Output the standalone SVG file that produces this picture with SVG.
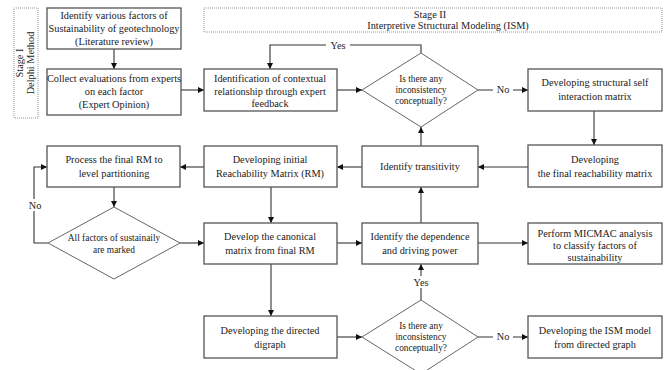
<svg xmlns="http://www.w3.org/2000/svg" width="667" height="370" viewBox="0 0 667 370">
<defs>
<marker id="ah" markerUnits="userSpaceOnUse" markerWidth="6" markerHeight="6" refX="6" refY="3" orient="auto">
<path d="M0,0 L6,3 L0,6 z" fill="#111"/>
</marker>
<style>
.box{fill:#fff;stroke:#555;stroke-width:1.3}
.dia{fill:#fff;stroke:#666;stroke-width:1}
.dot{fill:none;stroke:#999;stroke-width:1;stroke-dasharray:1 1}
.t{font-family:"Liberation Serif","Times New Roman",serif;font-size:10.3px;fill:#222;text-anchor:middle}
.s{font-family:"Liberation Serif","Times New Roman",serif;font-size:9.4px;fill:#222;text-anchor:middle}
.c{fill:none;stroke:#333;stroke-width:1.1;marker-end:url(#ah)}
.ln{fill:none;stroke:#333;stroke-width:1.1}
.lb{font-family:"Liberation Serif","Times New Roman",serif;font-size:10.3px;fill:#222;text-anchor:middle}
</style>
</defs>
<rect width="667" height="370" fill="#fff"/>

<g id="connectors">
<path class="c" d="M114,49 V69"/>
<path class="c" d="M181,90 H204"/>
<path class="c" d="M337,90 H362"/>
<path class="c" d="M421,53 V45 H270 V69"/>
<path class="c" d="M478,90 H528"/>
<path class="c" d="M594,111 V145"/>
<path class="c" d="M528,167 H478"/>
<path class="c" d="M421,146 V127"/>
<path class="c" d="M362,167 H337"/>
<path class="c" d="M204,167 H180"/>
<path class="c" d="M114,187 V207"/>
<path class="c" d="M48,243 H34 V167 H47"/>
<path class="c" d="M180,243 H204"/>
<path class="c" d="M271,187 V223"/>
<path class="c" d="M337,243 H362"/>
<path class="c" d="M421,223 V187"/>
<path class="c" d="M478,243 H528"/>
<path class="c" d="M271,264 V316"/>
<path class="c" d="M337,337 H362"/>
<path class="c" d="M421,300 V264"/>
<path class="c" d="M478,337 H528"/>
<rect x="326" y="40" width="24" height="11" fill="#fff"/>
<text class="lb" x="338" y="49">Yes</text>
<rect x="493" y="84" width="20" height="11" fill="#fff"/>
<text class="lb" x="503" y="93">No</text>
<rect x="25" y="199" width="20" height="12" fill="#fff"/>
<text class="lb" x="35" y="209">No</text>
<rect x="409" y="276" width="24" height="12" fill="#fff"/>
<text class="lb" x="421" y="286">Yes</text>
<rect x="493" y="331" width="20" height="11" fill="#fff"/>
<text class="lb" x="503" y="340">No</text>
</g>

<g id="stage1">
<rect class="dot" x="14" y="8" width="24" height="110"/>
<text class="t" transform="translate(23,63) rotate(-90)">Stage I</text>
<text class="t" transform="translate(34,63) rotate(-90)">Delphi Method</text>
</g>

<g id="stage2">
<rect class="dot" x="204" y="8" width="458" height="24"/>
<text class="t" x="430" y="18">Stage II</text>
<text class="t" x="448" y="29">Interpretive Structural Modeling (ISM)</text>
</g>

<g id="n1">
<rect class="box" x="47" y="8" width="134" height="41"/>
<text class="t" x="114" y="19">Identify various factors of</text>
<text class="t" x="114" y="32">Sustainability of geotechnology</text>
<text class="t" x="114" y="45">(Literature review)</text>
</g>

<g id="n2">
<rect class="box" x="47" y="69" width="134" height="46"/>
<text class="t" x="114" y="82">Collect evaluations from experts</text>
<text class="t" x="114" y="95">on each factor</text>
<text class="t" x="114" y="108">(Expert Opinion)</text>
</g>

<g id="n3">
<rect class="box" x="204" y="69" width="133" height="42"/>
<text class="t" x="270" y="82">Identification of contextual</text>
<text class="t" x="270" y="95">relationship through expert</text>
<text class="t" x="270" y="107">feedback</text>
</g>

<g id="d1">
<polygon class="dia" points="362,90 421,53 478,90 421,127"/>
<text class="s" x="421" y="82">Is there any</text>
<text class="s" x="421" y="93">inconsistency</text>
<text class="s" x="421" y="104">conceptually?</text>
</g>

<g id="n4">
<rect class="box" x="528" y="69" width="134" height="42"/>
<text class="t" x="595" y="86">Developing structural self</text>
<text class="t" x="595" y="100">interaction matrix</text>
</g>

<g id="n5">
<rect class="box" x="528" y="145" width="134" height="42"/>
<text class="t" x="595" y="163">Developing</text>
<text class="t" x="595" y="177">the final reachability matrix</text>
</g>

<g id="n6">
<rect class="box" x="362" y="146" width="116" height="41"/>
<text class="t" x="420" y="170">Identify transitivity</text>
</g>

<g id="n7">
<rect class="box" x="204" y="146" width="133" height="41"/>
<text class="t" x="270" y="163">Developing initial</text>
<text class="t" x="270" y="177">Reachability Matrix (RM)</text>
</g>

<g id="n8">
<rect class="box" x="47" y="146" width="133" height="41"/>
<text class="t" x="114" y="163">Process the final RM to</text>
<text class="t" x="114" y="177">level partitioning</text>
</g>

<g id="d2">
<polygon class="dia" points="48,243 114,207 180,243 114,279"/>
<text class="s" x="114" y="241">All factors of sustainaily</text>
<text class="s" x="114" y="253">are marked</text>
</g>

<g id="n9">
<rect class="box" x="204" y="223" width="133" height="41"/>
<text class="t" x="270" y="240">Develop the canonical</text>
<text class="t" x="270" y="254">matrix from final RM</text>
</g>

<g id="n10">
<rect class="box" x="362" y="223" width="116" height="41"/>
<text class="t" x="420" y="240">Identify the dependence</text>
<text class="t" x="420" y="254">and driving power</text>
</g>

<g id="n11">
<rect class="box" x="528" y="223" width="134" height="41"/>
<text class="t" x="595" y="237">Perform MICMAC analysis</text>
<text class="t" x="595" y="249">to classify factors of</text>
<text class="t" x="595" y="261">sustainability</text>
</g>

<g id="n12">
<rect class="box" x="204" y="316" width="133" height="42"/>
<text class="t" x="270" y="334">Developing the directed</text>
<text class="t" x="270" y="348">digraph</text>
</g>

<g id="d3">
<polygon class="dia" points="362,337 421,300 478,337 421,374"/>
<text class="s" x="421" y="329">Is there any</text>
<text class="s" x="421" y="340">inconsistency</text>
<text class="s" x="421" y="351">conceptually?</text>
</g>

<g id="n13">
<rect class="box" x="528" y="316" width="134" height="42"/>
<text class="t" x="595" y="334">Developing the ISM model</text>
<text class="t" x="595" y="348">from directed graph</text>
</g>
</svg>
